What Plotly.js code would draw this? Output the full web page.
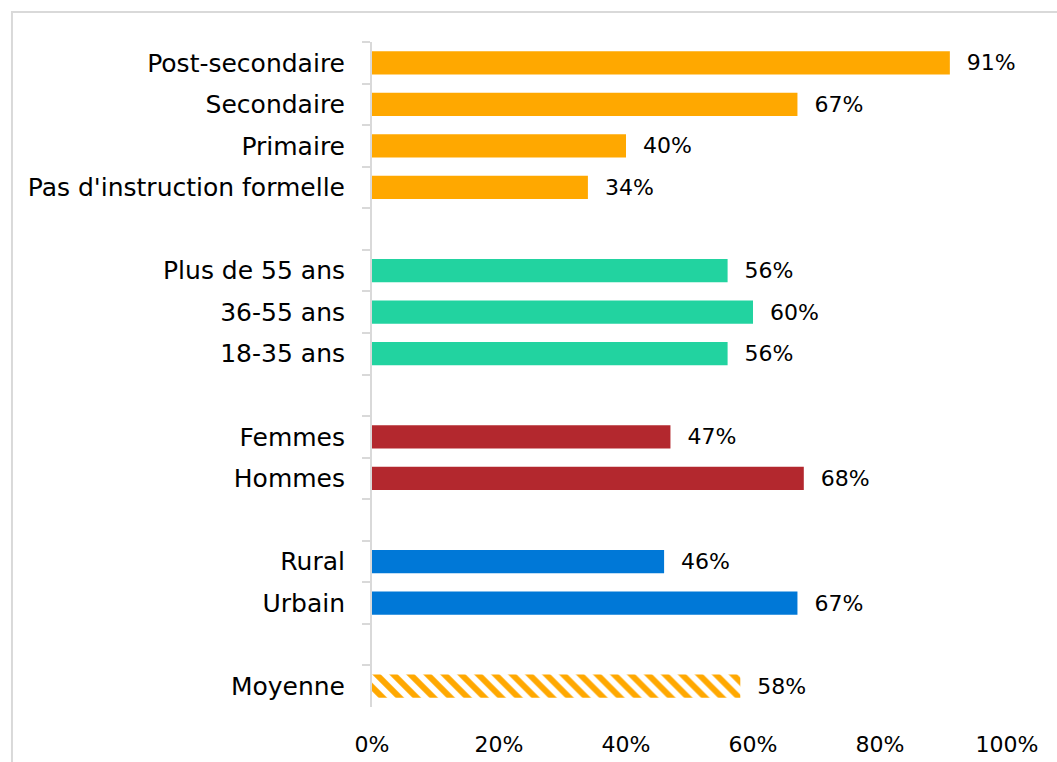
<!DOCTYPE html>
<html>
<head>
<meta charset="utf-8">
<script src="https://cdn.plot.ly/plotly-3.0.1.min.js"></script>
<style>
  body { margin: 0; background: #fff; }
  #plot { width: 1057px; height: 762px; }
</style>
</head>
<body>
<div id="plot"></div>
<script>
// rows from top to bottom, blank strings are the gaps between groups
var categories = [
    'Post-secondaire', 'Secondaire', 'Primaire', "Pas d'instruction formelle", ' ',
    'Plus de 55 ans', '36-55 ans', '18-35 ans', '  ',
    'Femmes', 'Hommes', '   ',
    'Rural', 'Urbain', '    ',
    'Moyenne'
];
var values = [
    0.91, 0.67, 0.40, 0.34, null,
    0.56, 0.60, 0.56, null,
    0.47, 0.68, null,
    0.46, 0.67, null,
    null
];
var average = [
    null, null, null, null, null,
    null, null, null, null,
    null, null, null,
    null, null, null,
    0.58
];
var colors = [
    '#FFA800', '#FFA800', '#FFA800', '#FFA800', '#ffffff',
    '#22D3A0', '#22D3A0', '#22D3A0', '#ffffff',
    '#B3282E', '#B3282E', '#ffffff',
    '#0078D7', '#0078D7', '#ffffff',
    '#ffffff'
];
var tickVals = [0, 0.2, 0.4, 0.6, 0.8, 1];
var tickText = ['0%', '20%', '40%', '60%', '80%', '100%'];

function pct(arr) {
    return arr.map(function (v) {
        return v === null ? '' : '  ' + Math.round(v * 100) + '%';
    });
}

var labelFont = { family: 'DejaVu Sans', size: 22, color: '#000' };

var bars = {
    type: 'bar',
    orientation: 'h',
    x: values,
    y: categories,
    text: pct(values),
    textposition: 'outside',
    constraintext: 'none',
    cliponaxis: false,
    textfont: labelFont,
    marker: { color: colors, line: { width: 0 } },
    hoverinfo: 'none'
};

var avgBar = {
    type: 'bar',
    orientation: 'h',
    x: average,
    y: categories,
    text: pct(average),
    textposition: 'outside',
    constraintext: 'none',
    cliponaxis: false,
    textfont: labelFont,
    marker: {
        color: '#ffffff',
        line: { width: 0 },
        pattern: {
            shape: '\\',
            fillmode: 'replace',
            fgcolor: '#FFA800',
            bgcolor: '#ffffff',
            size: 12,
            solidity: 0.5
        }
    },
    hoverinfo: 'none'
};

var layout = {
    width: 1057,
    height: 762,
    margin: { l: 372, r: 50, t: 42, b: 55 },
    paper_bgcolor: '#ffffff',
    plot_bgcolor: '#ffffff',
    font: { family: 'DejaVu Sans', size: 25, color: '#000' },
    barmode: 'overlay',
    bargap: 0.44,
    showlegend: false,
    xaxis: {
        range: [0, 1],
        tickvals: tickVals,
        ticktext: tickText,
        tickfont: { size: 22 },
        showgrid: false,
        zeroline: false,
        showline: false,
        ticks: '',
        ticklabelstandoff: 22,
        fixedrange: true
    },
    yaxis: {
        type: 'category',
        autorange: 'reversed',
        categoryorder: 'array',
        categoryarray: categories,
        showline: true,
        linecolor: '#d9d9d9',
        linewidth: 2,
        ticks: 'outside',
        tickson: 'boundaries',
        ticklen: 8,
        tickcolor: '#d9d9d9',
        tickwidth: 2,
        ticklabelstandoff: 20,
        showgrid: false,
        fixedrange: true
    },
    shapes: [{
        type: 'rect',
        xref: 'paper', yref: 'paper',
        x0: -0.567, x1: 1.2, y0: -0.2, y1: 1.045,
        line: { color: '#d9d9d9', width: 2 },
        fillcolor: 'rgba(0,0,0,0)',
        layer: 'below'
    }]
};

Plotly.newPlot('plot', [bars, avgBar], layout, { displayModeBar: false, staticPlot: true });
</script>
</body>
</html>
